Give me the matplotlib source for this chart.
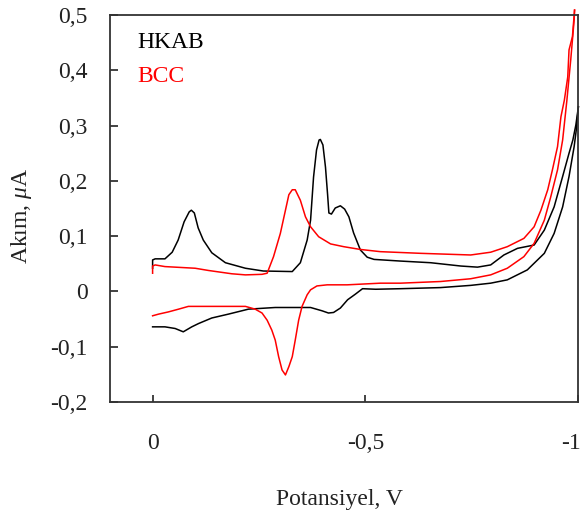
import matplotlib
matplotlib.use("Agg")
import matplotlib.pyplot as plt
from matplotlib.transforms import ScaledTranslation

plt.rcParams['font.family'] = ['Liberation Serif', 'DejaVu Serif']
plt.rcParams['mathtext.fontset'] = 'custom'
plt.rcParams['mathtext.it'] = 'Liberation Serif:italic'
plt.rcParams['mathtext.rm'] = 'Liberation Serif'

# HKAB voltammogram: forward scan (0 -> -1 V) and reverse scan (-1 -> 0 V)
hkab_fwd_v = [0.0, 0.0, -0.006, -0.029, -0.046, -0.060, -0.074, -0.086, -0.091, -0.098,
              -0.107, -0.119, -0.139, -0.171, -0.218, -0.260, -0.328, -0.347, -0.363,
              -0.371, -0.378, -0.385, -0.391, -0.394, -0.400, -0.406, -0.411, -0.414,
              -0.420, -0.429, -0.441, -0.451, -0.461, -0.472, -0.488, -0.504, -0.520,
              -0.582, -0.653, -0.724, -0.763, -0.794, -0.825, -0.857, -0.896, -0.920,
              -0.943, -0.963, -0.978, -0.987, -0.994, -1.0]
hkab_fwd_i = [0.042, 0.057, 0.059, 0.059, 0.071, 0.093, 0.126, 0.144, 0.147, 0.142,
              0.115, 0.093, 0.070, 0.052, 0.042, 0.037, 0.036, 0.052, 0.093,
              0.129, 0.207, 0.256, 0.274, 0.275, 0.265, 0.225, 0.175, 0.142,
              0.140, 0.151, 0.155, 0.149, 0.135, 0.106, 0.075, 0.062, 0.058,
              0.055, 0.052, 0.046, 0.044, 0.048, 0.066, 0.078, 0.084, 0.111,
              0.153, 0.208, 0.250, 0.274, 0.301, 0.334]
hkab_rev_v = [-1.0, -0.995, -0.990, -0.978, -0.963, -0.943, -0.920, -0.880, -0.833,
              -0.794, -0.747, -0.676, -0.582, -0.524, -0.493, -0.476, -0.458, -0.441,
              -0.425, -0.413, -0.398, -0.371, -0.324, -0.288, -0.225, -0.178, -0.139,
              -0.108, -0.092, -0.072, -0.053, -0.029, 0.0]
hkab_rev_i = [0.334, 0.292, 0.262, 0.208, 0.153, 0.105, 0.069, 0.039, 0.021,
              0.015, 0.011, 0.007, 0.005, 0.004, 0.005, -0.005, -0.015, -0.030,
              -0.038, -0.039, -0.035, -0.029, -0.029, -0.029, -0.032, -0.041, -0.048,
              -0.058, -0.064, -0.073, -0.067, -0.064, -0.064]

# BCC voltammogram
bcc_fwd_v = [0.0, 0.0, -0.006, -0.029, -0.100, -0.131, -0.186, -0.218, -0.257, -0.269,
             -0.284, -0.300, -0.312, -0.320, -0.328, -0.335, -0.347, -0.359, -0.371,
             -0.390, -0.418, -0.449, -0.488, -0.535, -0.629, -0.747, -0.794, -0.833,
             -0.872, -0.896, -0.912, -0.928, -0.939, -0.951, -0.959, -0.967, -0.975,
             -0.978, -0.986, -0.991]
bcc_fwd_i = [0.033, 0.046, 0.048, 0.045, 0.042, 0.038, 0.032, 0.030, 0.031, 0.033,
             0.063, 0.105, 0.147, 0.175, 0.184, 0.184, 0.165, 0.135, 0.117,
             0.099, 0.086, 0.081, 0.076, 0.072, 0.069, 0.066, 0.071, 0.081,
             0.096, 0.117, 0.147, 0.184, 0.220, 0.262, 0.316, 0.346, 0.388,
             0.437, 0.461, 0.509]
bcc_rev_v = [-0.991, -0.990, -0.982, -0.973, -0.963, -0.951, -0.935, -0.920, -0.896,
             -0.872, -0.833, -0.794, -0.747, -0.676, -0.582, -0.535, -0.457, -0.410,
             -0.386, -0.371, -0.363, -0.351, -0.343, -0.335, -0.328, -0.320, -0.312,
             -0.304, -0.296, -0.288, -0.280, -0.269, -0.257, -0.241, -0.218, -0.139,
             -0.084, -0.061, -0.037, -0.014, 0.0]
bcc_rev_i = [0.509, 0.491, 0.419, 0.346, 0.274, 0.220, 0.171, 0.129, 0.087,
             0.063, 0.042, 0.030, 0.023, 0.018, 0.015, 0.015, 0.012, 0.012,
             0.010, 0.003, -0.006, -0.027, -0.052, -0.088, -0.118, -0.136, -0.151,
             -0.142, -0.118, -0.088, -0.070, -0.052, -0.039, -0.032, -0.027, -0.027,
             -0.027, -0.032, -0.037, -0.041, -0.044]

x_ticks = [0.0, -0.5, -1.0]
x_tick_labels = ['0', '-0,5', '-1']
y_ticks = [0.5, 0.4, 0.3, 0.2, 0.1, 0.0, -0.1, -0.2]
y_tick_labels = ['0,5', '0,4', '0,3', '0,2', '0,1', '0', '-0,1', '-0,2']

fig = plt.figure(figsize=(5.84, 5.18), dpi=100)
ax = fig.add_axes([0.1884, 0.2239, 0.802, 0.747])

ax.plot(hkab_fwd_v, hkab_fwd_i, color='black', lw=1.1, clip_on=False)
ax.plot(hkab_rev_v, hkab_rev_i, color='black', lw=1.1, clip_on=False)
ax.plot(bcc_fwd_v, bcc_fwd_i, color='#ff0000', lw=1.1, clip_on=False)
ax.plot(bcc_rev_v, bcc_rev_i, color='#ff0000', lw=1.1, clip_on=False)

ax.set_xlim(0.1, -1.0)
ax.set_ylim(-0.2, 0.5)

ax.set_xticks(x_ticks)
ax.set_xticklabels(x_tick_labels)
ax.set_yticks(y_ticks)
ax.set_yticklabels(y_tick_labels)

fs = 17
ax.tick_params(axis='x', direction='in', length=5, width=1.2, pad=22,
               labelsize=fs, colors='#222222')
ax.tick_params(axis='y', direction='in', length=6, width=1.2, pad=16,
               labelsize=fs, colors='#222222')
for sp in ax.spines.values():
    sp.set_linewidth(1.3)
    sp.set_color('#333333')

# keep the last x tick label inside the figure edge
last = ax.get_xticklabels()[-1]
last.set_transform(last.get_transform() + ScaledTranslation(-5 / 72, 0, fig.dpi_scale_trans))

ax.set_xlabel('Potansiyel, V', fontsize=fs, color='#222222')
ax.xaxis.set_label_coords(0.49, -0.253)
ax.xaxis.label.set_va('center')
ax.set_ylabel(r'Akım, $\mu$A', fontsize=fs, color='#222222')
ax.yaxis.set_label_coords(-0.188, 0.48)
ax.yaxis.label.set_va('center')

ax.text(0.0576, 0.930, 'HKAB', transform=ax.transAxes, fontsize=fs,
        color='black', va='center', ha='left')
ax.text(0.0576, 0.840, 'BCC', transform=ax.transAxes, fontsize=fs,
        color='#ff0000', va='center', ha='left')

fig.savefig('out.png', dpi=100)
